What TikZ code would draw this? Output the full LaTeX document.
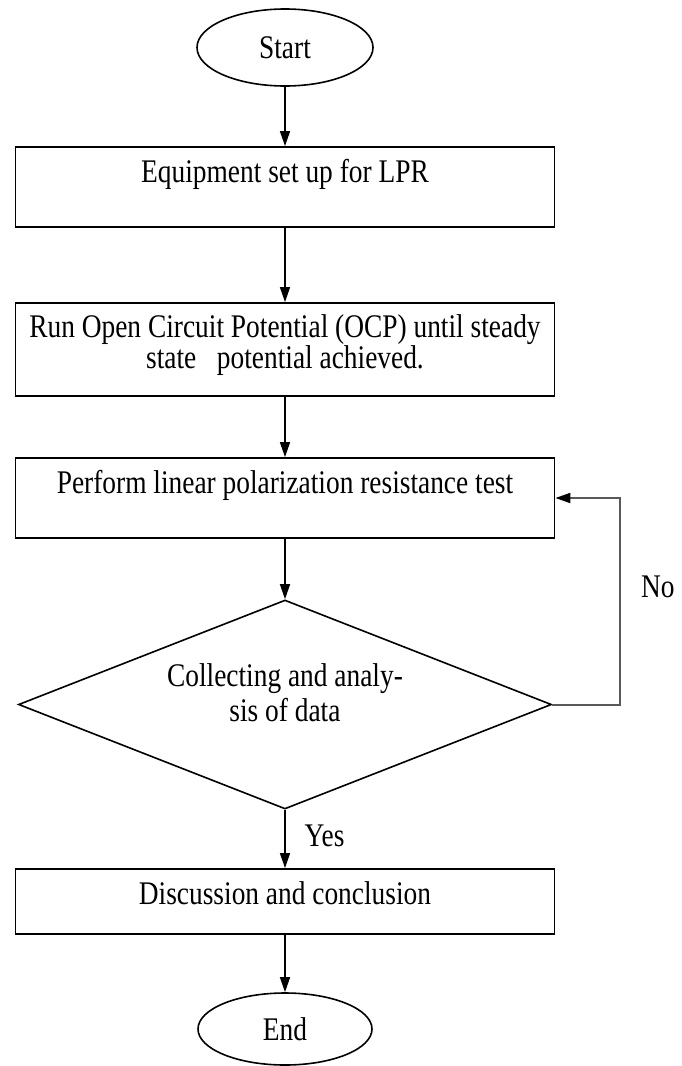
\documentclass[tikz,border=0pt]{standalone}
\usepackage{fontspec}
\setmainfont{Liberation Serif}[FakeStretch=0.83]
\usetikzlibrary{arrows.meta,shapes.geometric}

\begin{document}
\begin{tikzpicture}[
    x=0.5pt, y=-0.5pt,
    every node/.style={font=\fontsize{16.5}{15.25}\selectfont, inner sep=0pt},
    terminal/.style={ellipse, draw, line width=0.8pt, minimum width=88pt, minimum height=38.5pt},
    procbox/.style={rectangle, draw, line width=0.9pt, minimum width=269.5pt, text height=17.5pt, text depth=22.5pt, align=center},
    decision/.style={diamond, draw, line width=0.8pt, aspect=2.55, minimum width=266.5pt, minimum height=104.5pt,
        align=center, font=\fontsize{16.5}{17.5}\selectfont, text height=30pt, text depth=12.8pt},
    flow/.style={-{Triangle[length=7.5pt, width=5pt]}, line width=0.7pt},
    loopflow/.style={flow, draw=black!65, line width=1pt, -{Triangle[length=7.5pt, width=5pt, color=black]}},
    branch/.style={inner sep=0pt}
]
\useasboundingbox (0,0) rectangle (681,1066);

% steps of the test
\node [terminal] (start) at (285,47.5) {Start};
\node [procbox] (setup) at (285,187) {Equipment set up for LPR};
\node [procbox, text height=32.5pt, text depth=14pt] (ocp) at (285,349.5) {Run Open Circuit Potential (OCP) until steady\\state~~~potential achieved.};
\node [procbox] (lpr) at (285,498) {Perform linear polarization resistance test};
\node [decision] (analysis) at (285,704.5) {Collecting and analy-\\sis of data};
\node [procbox, text depth=15pt] (discuss) at (285,901.5) {Discussion and conclusion};
\node [terminal, minimum width=87pt, minimum height=36pt] (end) at (285,1029) {End};
\coordinate (loopx) at (620,600);

% connectors
\draw [flow] (start) -- (setup);
\draw [flow] (setup) -- (ocp);
\draw [flow] (ocp) -- (lpr);
\draw [flow] (lpr) -- (analysis);
\draw [flow] (analysis) -- node [branch, pos=0.45, right=9.5pt] {Yes} (discuss);
\draw [flow] (discuss) -- (end);
\draw [loopflow] (analysis.east) -- (analysis.east -| loopx) |- node [branch, pos=0.285, right=10pt] {No} (lpr.east);
\end{tikzpicture}
\end{document}
